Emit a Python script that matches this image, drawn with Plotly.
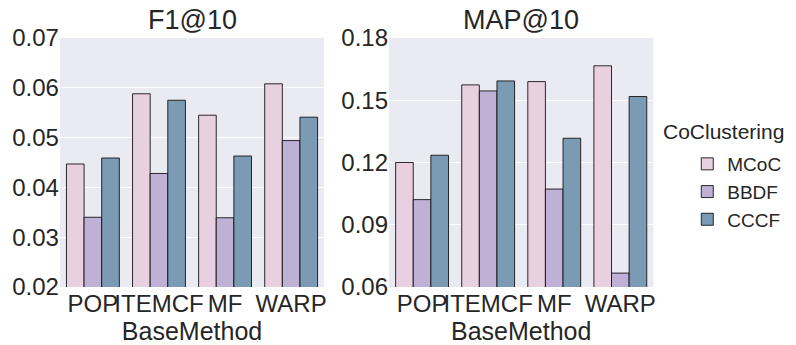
import plotly.graph_objects as go

methods = ["POP", "ITEMCF", "MF", "WARP"]
series_names = ["MCoC", "BBDF", "CCCF"]
colors = ["#e8d0e1", "#bfb0d6", "#7b9bb4"]

f1_mcoc = [0.0447, 0.0588, 0.0545, 0.0608]
f1_bbdf = [0.0340, 0.0428, 0.0339, 0.0494]
f1_cccf = [0.0459, 0.0575, 0.0463, 0.0541]

map_mcoc = [0.1200, 0.1574, 0.1590, 0.1666]
map_bbdf = [0.1021, 0.1545, 0.1072, 0.0667]
map_cccf = [0.1235, 0.1593, 0.1317, 0.1518]

f1_ticks = [0.02, 0.03, 0.04, 0.05, 0.06, 0.07]
map_ticks = [0.06, 0.09, 0.12, 0.15, 0.18]

FONT = "Liberation Sans, Arial, sans-serif"
TXT = "#262626"

fig = go.Figure()
f1_vals = [f1_mcoc, f1_bbdf, f1_cccf]
map_vals = [map_mcoc, map_bbdf, map_cccf]
for i, name in enumerate(series_names):
    fig.add_trace(go.Bar(x=methods, y=f1_vals[i], name=name,
                         marker=dict(color=colors[i], line=dict(color="rgba(20,20,20,0.9)", width=1)),
                         xaxis="x", yaxis="y", showlegend=True))
for i, name in enumerate(series_names):
    fig.add_trace(go.Bar(x=methods, y=map_vals[i], name=name,
                         marker=dict(color=colors[i], line=dict(color="rgba(20,20,20,0.9)", width=1)),
                         xaxis="x2", yaxis="y2", showlegend=False))

W, H = 796, 345
def px(x):
    return x / W
def py(y):
    return (287 - y) / 249

xcommon = dict(type="category", range=[-0.5, 3.5], showgrid=False, ticks="", zeroline=False,
               tickangle=0, tickfont=dict(size=24, color=TXT, family=FONT),
               title=dict(text="BaseMethod", font=dict(size=25, color=TXT, family=FONT), standoff=6),
               showline=False)
ycommon = dict(showgrid=True, gridcolor="white", gridwidth=1.3, zeroline=False, ticks="",
               tickfont=dict(size=24, color=TXT, family=FONT), tickformat=".2f", showline=False)

fig.update_layout(
    width=W, height=H,
    margin=dict(l=0, r=0, t=38, b=58),
    paper_bgcolor="white", plot_bgcolor="#eaeaf2",
    barmode="group", bargap=0.2, bargroupgap=0,
    font=dict(family=FONT, color=TXT),
    xaxis=dict(domain=[px(60), px(325)], anchor="y", **xcommon),
    yaxis=dict(range=[0.02, 0.07], tickvals=f1_ticks, anchor="x", **ycommon),
    xaxis2=dict(domain=[px(390), px(655)], anchor="y2", **xcommon),
    yaxis2=dict(range=[0.06, 0.18], tickvals=map_ticks, anchor="x2", **ycommon),
    legend=dict(x=px(689), xanchor="left", y=py(145), yanchor="top",
                font=dict(size=19, color=TXT, family=FONT), bgcolor="rgba(0,0,0,0)",
                tracegroupgap=0),
    annotations=[
        dict(text="F1@10", x=(px(60) + px(325)) / 2, y=1.0, xref="paper", yref="paper",
             xanchor="center", yanchor="bottom", yshift=1, showarrow=False,
             font=dict(size=27, color=TXT, family=FONT)),
        dict(text="MAP@10", x=(px(390) + px(655)) / 2, y=1.0, xref="paper", yref="paper",
             xanchor="center", yanchor="bottom", yshift=1, showarrow=False,
             font=dict(size=27, color=TXT, family=FONT)),
        dict(text="CoClustering", x=px(725), y=py(131), xref="paper", yref="paper",
             xanchor="center", yanchor="middle", showarrow=False,
             font=dict(size=21, color=TXT, family=FONT)),
    ],
)

fig.write_html("out.html")
